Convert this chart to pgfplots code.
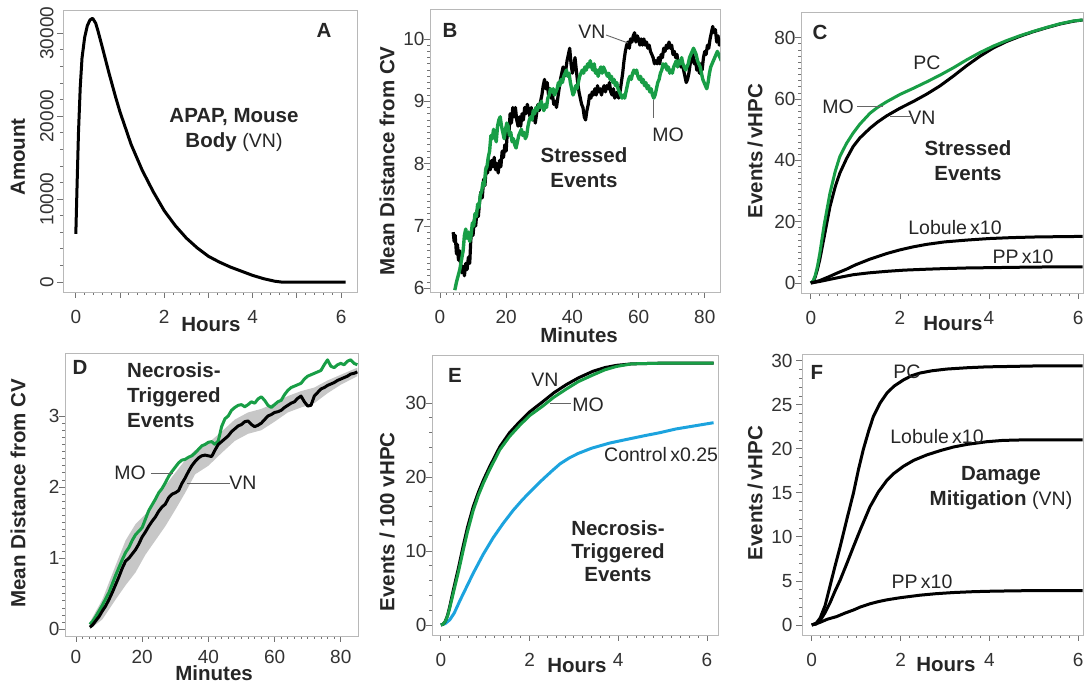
\documentclass[border=0pt]{standalone}
\usepackage{fontspec}
\setmainfont{Liberation Sans}
\usepackage{pgfplots}
\pgfplotsset{compat=1.18}
\newcommand\tk{\fontsize{19}{22}\selectfont}
\newcommand\lb{\fontsize{20.5}{25}\selectfont\bfseries}
\newcommand\an{\fontsize{19.5}{23}\selectfont}
\definecolor{mogreen}{RGB}{24,158,70}
\definecolor{ctlblue}{RGB}{28,163,222}
\definecolor{txt}{RGB}{38,38,38}
\pgfplotsset{
  panel/.style={
    scale only axis, anchor=south west,
    axis line style={draw=black!28, line width=0.9pt},
    tick pos=left, tick align=outside,
    major tick length=6pt, minor tick length=3pt,
    tick style={black!55, line width=0.8pt},
    tick label style={font=\tk, text=black!80},
    xticklabel style={yshift=-9pt},
    label style={font=\lb, text=txt, inner sep=0pt},
    /pgf/number format/assume math mode=true,
    /pgf/number format/1000 sep={},
    scaled y ticks=false,
  },
  cv/.style={line width=3pt, line join=round},
}
\begin{document}
\begin{tikzpicture}
\useasboundingbox (0pt,0pt) rectangle (1084pt,685pt);

% ---------------- A ----------------
\begin{axis}[panel, at={(63pt,393pt)}, width=294pt, height=282pt,
  xmin=-0.29, xmax=6.36, ymin=-1200, ymax=32800,
  xtick={0,1,2,3,4,5,6}, xticklabels={0,,2,,4,,6}, minor x tick num=4,
  ytick={0,10000,20000,30000}, minor y tick num=4,
  yticklabel style={rotate=90, anchor=south},
  xlabel={Hours}, ylabel={Amount},
  xlabel style={at={(axis description cs:0.503,-0.114)}, anchor=center},
  ylabel style={at={(axis description cs:-0.153,0.479)}, anchor=center}]
\addplot[cv, black] coordinates {
(0,5800) (0.03,12000) (0.06,18000) (0.1,23500) (0.14,27000) (0.2,29500) (0.26,30900)
(0.32,31600) (0.38,31800) (0.45,31200) (0.5,30300) (0.6,28300) (0.75,25200) (0.9,22300)
(1.0,20500) (1.25,16600) (1.5,13500) (1.75,10900) (2.0,8600) (2.25,6800) (2.5,5300)
(2.75,4100) (3.0,3100) (3.25,2400) (3.5,1800) (3.75,1300) (4.0,800) (4.25,400) (4.5,100)
(4.65,0) (6.1,0)};
\end{axis}

% ---------------- B ----------------
\begin{axis}[panel, at={(430pt,393pt)}, width=290pt, height=283pt,
  xmin=-3.0, xmax=84.6, ymin=5.94, ymax=10.48,
  xtick={0,20,40,60,80}, minor x tick num=9,
  ytick={6,7,8,9,10}, minor y tick num=9,
  yticklabel style={xshift=4pt},
  xlabel={Minutes}, ylabel={Mean Distance from CV},
  xlabel style={at={(axis description cs:0.514,-0.152)}, anchor=center},
  ylabel style={at={(axis description cs:-0.148,0.463)}, anchor=center}]
\addplot[cv, black, line width=3.2pt] coordinates {
(4.0,6.9) (4.3,6.75) (4.6,6.85) (5.0,6.55) (5.3,6.7) (5.6,6.45) (6.0,6.6) (6.3,6.35) (6.6,6.25)
(7.0,6.35) (7.4,6.2) (7.8,6.4) (8.2,6.3) (8.6,6.5) (9.0,6.4) (9.3,6.75) (9.6,6.95) (10.0,6.85)
(10.4,7.1) (10.8,7.0) (11.2,7.25) (11.6,7.15) (12.0,7.4) (12.4,7.55) (12.8,7.45) (13.2,7.75)
(13.6,7.65) (14.0,7.95) (14.4,7.85) (14.8,8.05) (15.2,7.9) (15.6,8.05) (16.0,7.95) (16.4,8.1)
(16.8,7.9) (17.2,8.0) (17.6,7.85) (18.0,8.05) (18.4,7.95) (18.8,8.2) (19.2,8.1) (19.6,8.3)
(20.0,8.2) (20.4,8.55) (20.8,8.45) (21.2,8.8) (21.6,8.65) (22.0,8.9) (22.4,8.75) (22.8,8.9)
(23.2,8.7) (23.6,8.6) (24.0,8.75) (24.4,8.6) (24.8,8.8) (25.2,8.7) (25.6,8.9) (26.0,8.8)
(26.4,8.95) (26.8,8.85) (27.2,8.75) (27.6,8.9) (28.0,8.7) (28.4,8.8) (28.8,8.65) (29.2,8.8)
(29.6,8.95) (30.0,8.85) (30.4,9.0) (30.8,9.1) (31.2,9.25) (31.6,9.35) (32.0,9.2) (32.4,9.3)
(32.8,9.1) (33.2,9.2) (33.6,9.05) (34.0,9.1) (34.4,8.95) (34.8,9.0) (35.2,8.9) (35.6,9.05)
(36.0,9.2) (36.4,9.35) (36.8,9.45) (37.2,9.55) (37.6,9.4) (38.0,9.5) (38.4,9.65) (38.8,9.75)
(39.2,9.85) (39.6,9.6) (40.0,9.45) (40.4,9.55) (40.8,9.7) (41.2,9.5) (41.6,9.3) (42.0,9.15)
(42.4,9.05) (42.8,8.95) (43.2,8.9) (43.6,8.75) (44.0,8.7) (44.4,8.85) (44.8,8.95) (45.2,9.1)
(45.6,9.05) (46.0,9.15) (46.4,9.1) (46.8,9.2) (47.2,9.1) (47.6,9.25) (48.0,9.15) (48.4,9.2)
(48.8,9.1) (49.2,9.2) (49.6,9.25) (50.0,9.15) (50.4,9.25) (50.8,9.2) (51.2,9.3) (51.6,9.15)
(52.0,9.1) (52.4,9.2) (52.8,9.05) (53.2,9.1) (53.6,9.15) (54.0,9.05) (54.4,9.15) (54.8,9.3)
(55.2,9.45) (55.6,9.65) (56.0,9.8) (56.4,9.9) (56.8,9.95) (57.2,9.85) (57.6,10.0) (58.0,9.95)
(58.4,10.05) (58.8,10.1) (59.2,9.95) (59.6,10.05) (60.0,10.0) (60.4,9.9) (60.8,10.0) (61.2,9.9)
(61.6,10.0) (62.0,9.9) (62.4,9.95) (62.8,9.85) (63.2,9.9) (63.6,9.8) (64.0,9.75) (64.4,9.7)
(64.8,9.6) (65.2,9.65) (65.6,9.6) (66.0,9.7) (66.4,9.6) (66.8,9.75) (67.2,9.7) (67.6,9.85)
(68.0,9.8) (68.4,9.9) (68.8,9.85) (69.2,9.95) (69.6,9.85) (70.0,9.9) (70.4,9.75) (70.8,9.8)
(71.2,9.7) (71.6,9.75) (72.0,9.6) (72.4,9.65) (72.8,9.55) (73.2,9.6) (73.6,9.5) (74.0,9.4)
(74.4,9.3) (74.8,9.35) (75.2,9.45) (75.6,9.6) (76.0,9.7) (76.4,9.75) (76.8,9.6) (77.2,9.65)
(77.6,9.5) (78.0,9.55) (78.4,9.45) (78.8,9.6) (79.2,9.5) (79.6,9.7) (80.0,9.8) (80.4,9.75)
(80.8,9.9) (81.2,9.85) (81.6,10.0) (82.0,10.1) (82.4,10.2) (82.8,10.1) (83.2,10.15) (83.6,9.95)
(84.0,10.05) (84.4,9.9) (84.8,10.0)};
\addplot[cv, mogreen, line width=3.4pt] coordinates {
(4.5,5.97) (5.0,6.1) (5.5,6.2) (6.0,6.3) (6.5,6.45) (7.0,6.6) (7.4,6.85) (7.8,6.95) (8.2,6.8)
(8.6,6.9) (9.0,6.75) (9.4,6.85) (9.8,7.05) (10.2,7.0) (10.6,7.2) (11.0,7.15) (11.4,7.35)
(11.8,7.3) (12.2,7.5) (12.6,7.55) (13.0,7.7) (13.4,7.65) (13.8,7.9) (14.2,7.95) (14.6,8.1)
(15.0,8.2) (15.4,8.45) (15.8,8.4) (16.2,8.55) (16.6,8.45) (17.0,8.35) (17.4,8.6) (17.8,8.7)
(18.2,8.75) (18.6,8.6) (19.0,8.5) (19.4,8.4) (19.8,8.55) (20.2,8.65) (20.6,8.6) (21.0,8.45)
(21.4,8.5) (21.8,8.35) (22.2,8.4) (22.6,8.3) (23.0,8.25) (23.4,8.35) (23.8,8.45) (24.2,8.5)
(24.6,8.55) (25.0,8.45) (25.4,8.5) (25.8,8.4) (26.2,8.45) (26.6,8.6) (27.0,8.7) (27.4,8.75)
(27.8,8.7) (28.2,8.85) (28.6,8.8) (29.0,8.9) (29.4,8.85) (29.8,8.95) (30.2,8.9) (30.6,9.0)
(31.0,8.9) (31.4,8.85) (31.8,8.95) (32.2,8.9) (32.6,9.05) (33.0,9.1) (33.4,9.2) (33.8,9.15)
(34.2,9.2) (34.6,9.1) (35.0,9.15) (35.4,9.2) (35.8,9.3) (36.2,9.25) (36.6,9.35) (37.0,9.3)
(37.4,9.4) (37.8,9.45) (38.2,9.5) (38.6,9.4) (39.0,9.45) (39.4,9.3) (39.8,9.2) (40.2,9.1)
(40.6,9.15) (41.0,9.25) (41.4,9.2) (41.8,9.3) (42.2,9.4) (42.6,9.45) (43.0,9.5) (43.4,9.45)
(43.8,9.55) (44.2,9.5) (44.6,9.6) (45.0,9.55) (45.4,9.65) (45.8,9.55) (46.2,9.5) (46.6,9.6)
(47.0,9.45) (47.4,9.5) (47.8,9.4) (48.2,9.5) (48.6,9.55) (49.0,9.45) (49.4,9.55) (49.8,9.5)
(50.2,9.45) (50.6,9.4) (51.0,9.45) (51.4,9.35) (51.8,9.4) (52.2,9.3) (52.6,9.35) (53.0,9.25)
(53.4,9.3) (53.8,9.2) (54.2,9.15) (54.6,9.1) (55.0,9.05) (55.4,9.1) (55.8,9.05) (56.2,9.15)
(56.6,9.25) (57.0,9.35) (57.4,9.4) (57.8,9.35) (58.2,9.45) (58.6,9.5) (59.0,9.45) (59.4,9.5)
(59.8,9.4) (60.2,9.35) (60.6,9.4) (61.0,9.3) (61.4,9.35) (61.8,9.25) (62.2,9.3) (62.6,9.2)
(63.0,9.25) (63.4,9.15) (63.8,9.2) (64.2,9.1) (64.6,9.05) (65.0,9.1) (65.4,9.2) (65.8,9.3)
(66.2,9.35) (66.6,9.45) (67.0,9.5) (67.4,9.6) (67.8,9.55) (68.2,9.6) (68.6,9.5) (69.0,9.55)
(69.4,9.45) (69.8,9.5) (70.2,9.45) (70.6,9.55) (71.0,9.6) (71.4,9.65) (71.8,9.55) (72.2,9.65)
(72.6,9.6) (73.0,9.7) (73.4,9.6) (73.8,9.55) (74.2,9.5) (74.6,9.55) (75.0,9.6) (75.4,9.7)
(75.8,9.75) (76.2,9.8) (76.6,9.85) (77.0,9.8) (77.4,9.75) (77.8,9.65) (78.2,9.6) (78.6,9.55)
(79.0,9.45) (79.4,9.35) (79.8,9.3) (80.2,9.25) (80.6,9.2) (81.0,9.3) (81.4,9.45) (81.8,9.55)
(82.2,9.6) (82.6,9.65) (83.0,9.7) (83.4,9.75) (83.8,9.8) (84.2,9.75) (84.6,9.7) (85.0,9.65)};
\end{axis}

% ---------------- C ----------------
\begin{axis}[panel, at={(801pt,392pt)}, width=282pt, height=281pt,
  xmin=-0.22, xmax=6.11, ymin=-3.26, ymax=88.4,
  xtick={0,2,4,6}, minor x tick num=9,
  ytick={0,20,40,60,80}, minor y tick num=9,
  yticklabel style={xshift=4pt},
  xlabel={Hours}, ylabel={Events\,/\,vHPC},
  xlabel style={at={(axis description cs:0.539,-0.110)}, anchor=center},
  ylabel style={at={(axis description cs:-0.163,0.505)}, anchor=center}]
\addplot[cv, black] coordinates {
(0,0) (0.05,0.5) (0.1,2) (0.15,4.5) (0.2,7.5) (0.3,15) (0.43,24.9) (0.55,31.5) (0.65,35.8)
(0.8,40.5) (0.95,44.5) (1.1,47.3) (1.33,50.5) (1.5,52.5) (1.7,54.5) (2.0,57) (2.3,59.2)
(2.6,61.6) (2.9,64.3) (3.2,67.5) (3.5,70.9) (3.8,74.0) (4.1,76.7) (4.4,78.8) (4.7,80.5) (5.0,82)
(5.3,83.3) (5.6,84.5) (5.9,85.4) (6.1,85.8)};
\addplot[cv, mogreen] coordinates {
(0,0) (0.05,0.6) (0.1,2.5) (0.15,5.5) (0.2,9.5) (0.3,19) (0.43,29.3) (0.55,36.5) (0.65,41.2)
(0.8,45.5) (0.95,48.9) (1.1,51.8) (1.33,55.4) (1.5,57.3) (1.7,59.1) (2.0,61.5) (2.3,63.5)
(2.6,65.6) (2.9,67.8) (3.2,70.2) (3.5,72.8) (3.8,75.2) (4.1,77.3) (4.4,79.1) (4.7,80.7) (5.0,82.1)
(5.3,83.4) (5.6,84.6) (5.9,85.5) (6.1,85.8)};
\addplot[cv, black] coordinates {
(0,0) (0.2,0.8) (0.4,2.0) (0.6,3.3) (0.8,4.5) (1.0,5.9) (1.33,7.8) (1.7,9.6) (2.0,10.8)
(2.3,11.8) (2.6,12.6) (3.0,13.4) (3.5,14.0) (4.0,14.5) (4.5,14.8) (5.0,15.0) (5.5,15.1) (6.1,15.2)};
\addplot[cv, black] coordinates {
(0,0) (0.2,0.5) (0.43,1.2) (0.7,2.0) (0.95,2.7) (1.3,3.3) (1.7,3.8) (2.1,4.2) (2.6,4.5)
(3.0,4.7) (3.5,4.9) (4.0,5.0) (4.5,5.1) (5.0,5.2) (5.5,5.25) (6.1,5.3)};
\end{axis}

% ---------------- D ----------------
\begin{axis}[panel, at={(65pt,49pt)}, width=293pt, height=283pt,
  xmin=-3.3, xmax=85.2, ymin=-0.094, ymax=3.886,
  xtick={0,20,40,60,80}, minor x tick num=9,
  ytick={0,1,2,3}, minor y tick num=9,
  yticklabel style={xshift=4pt},
  xticklabel style={inner sep=1pt, yshift=2pt},
  xlabel={Minutes}, ylabel={Mean Distance from CV},
  xlabel style={at={(axis description cs:0.509,-0.131)}, anchor=center},
  ylabel style={at={(axis description cs:-0.160,0.505)}, anchor=center}]
% spread band: upper edge forward, lower edge back
\addplot[fill=black!22, draw=none] coordinates {
(4.2,0.1) (8,0.42) (12,0.9) (15,1.25) (18,1.48) (21,1.62) (24,1.82) (27,2.02) (30,2.2)
(33,2.38) (36,2.52) (40,2.62) (44,2.78) (48,2.95) (52,3.05) (56,3.1) (60,3.18) (64,3.28)
(68,3.35) (72,3.4) (76,3.5) (80,3.58) (85,3.68)
(85,3.56) (80,3.44) (76,3.32) (72,3.18) (68,3.12) (64,3.05) (60,2.92) (56,2.8) (52,2.75)
(48,2.65) (44,2.48) (40,2.3) (36,2.18) (33,1.92) (30,1.68) (27,1.45) (24,1.25) (21,1.05)
(18,0.8) (15,0.62) (12,0.42) (8,0.14) (4.2,0.0)};
\addplot[cv, mogreen] coordinates {
(4.2,0.07) (5,0.11) (6,0.18) (7,0.26) (8,0.34) (9,0.43) (10,0.52) (11,0.64) (12,0.76) (13,0.87)
(14,0.98) (15,1.08) (16,1.15) (17,1.25) (18,1.33) (19,1.38) (20,1.43) (21,1.55) (22,1.67)
(23,1.75) (24,1.83) (25,1.92) (26,1.98) (27,2.06) (28,2.15) (29,2.22) (30,2.28) (31,2.34)
(32,2.38) (33,2.39) (34,2.42) (35,2.44) (36,2.48) (37,2.53) (38,2.58) (39,2.6) (40,2.63)
(41,2.64) (42,2.6) (43,2.65) (44,2.85) (45,2.96) (46,3.0) (47,3.08) (48,3.12) (49,3.15)
(50,3.16) (51,3.13) (52,3.16) (53,3.2) (54,3.18) (55,3.24) (56,3.27) (57,3.22) (58,3.15)
(59,3.12) (60,3.16) (61,3.2) (62,3.22) (63,3.3) (64,3.36) (65,3.4) (66,3.42) (67,3.44)
(68,3.46) (69,3.52) (70,3.56) (71,3.58) (72,3.6) (73,3.62) (74,3.64) (75,3.72) (76,3.79)
(77,3.7) (78,3.68) (79,3.72) (80,3.74) (81,3.72) (82,3.77) (83,3.79) (84,3.74) (85,3.72)};
\addplot[cv, black] coordinates {
(4.2,0.03) (5,0.06) (6,0.12) (7,0.18) (8,0.26) (9,0.33) (10,0.42) (11,0.52) (12,0.63) (13,0.74)
(14,0.86) (15,0.96) (16,1.0) (17,1.06) (18,1.12) (19,1.2) (20,1.3) (21,1.37) (22,1.45)
(23,1.52) (24,1.58) (25,1.66) (26,1.72) (27,1.76) (28,1.85) (29,1.9) (30,1.92) (31,1.95)
(32,2.05) (33,2.13) (34,2.22) (35,2.3) (36,2.36) (37,2.41) (38,2.44) (39,2.45) (40,2.44)
(41,2.43) (42,2.52) (43,2.6) (44,2.64) (45,2.68) (46,2.72) (47,2.78) (48,2.82) (49,2.86)
(50,2.88) (51,2.92) (52,2.93) (53,2.88) (54,2.85) (55,2.87) (56,2.9) (57,2.95) (58,3.0)
(59,3.02) (60,3.05) (61,3.06) (62,3.08) (63,3.12) (64,3.15) (65,3.18) (66,3.2) (67,3.25)
(68,3.28) (69,3.2) (70,3.14) (71,3.15) (72,3.28) (73,3.33) (74,3.38) (75,3.4) (76,3.43)
(77,3.45) (78,3.47) (79,3.5) (80,3.52) (81,3.54) (82,3.56) (83,3.59) (84,3.6) (85,3.62)};
\end{axis}

% ---------------- E ----------------
\begin{axis}[panel, at={(432pt,50pt)}, width=286pt, height=280pt,
  xmin=-0.2, xmax=6.25, ymin=-1.35, ymax=36.5,
  xtick={0,2,4,6}, minor x tick num=9,
  ytick={0,10,20,30}, minor y tick num=4,
  yticklabel style={xshift=4pt},
  xlabel={Hours}, ylabel={Events / 100 vHPC},
  xlabel style={at={(axis description cs:0.507,-0.110)}, anchor=center},
  ylabel style={at={(axis description cs:-0.157,0.404)}, anchor=center}]
\addplot[cv, ctlblue] coordinates {
(0,0) (0.1,0.2) (0.2,0.7) (0.3,1.6) (0.43,3.3) (0.6,5.4) (0.73,7.0) (0.95,9.5) (1.18,11.8)
(1.4,13.7) (1.63,15.5) (1.85,17.0) (2.08,18.4) (2.3,19.7) (2.5,20.8) (2.69,21.8) (2.9,22.6)
(3.1,23.2) (3.4,23.9) (3.81,24.6) (4.2,25.1) (4.6,25.6) (4.94,26.0) (5.3,26.5) (5.7,26.9)
(6.1,27.3) (6.15,27.35)};
\addplot[cv, black] coordinates {
(0,0) (0.05,0.1) (0.1,0.5) (0.15,1.3) (0.2,2.5) (0.28,4.7) (0.4,7.8) (0.5,10.6) (0.6,13.2)
(0.73,16.0) (0.85,18.0) (0.96,19.6) (1.1,21.4) (1.33,24.1) (1.55,26) (1.78,27.5) (2.0,28.8)
(2.3,30.2) (2.55,31.4) (2.83,32.5) (3.1,33.4) (3.43,34.3) (3.7,34.8) (3.96,35.1) (4.3,35.3)
(5,35.4) (6.15,35.4)};
\addplot[cv, mogreen] coordinates {
(0,0) (0.05,0.1) (0.1,0.5) (0.15,1.2) (0.2,2.3) (0.28,4.3) (0.4,7.3) (0.5,10.0) (0.6,12.6)
(0.73,15.5) (0.85,17.6) (0.96,19.2) (1.1,21.0) (1.33,23.7) (1.55,25.5) (1.78,27.0) (2.0,28.3)
(2.3,29.6) (2.55,30.8) (2.83,31.9) (3.1,32.9) (3.43,33.8) (3.7,34.5) (3.96,34.95) (4.3,35.3)
(5,35.4) (6.15,35.4)};
\end{axis}

% ---------------- F ----------------
\begin{axis}[panel, at={(802pt,50pt)}, width=281pt, height=281pt,
  xmin=-0.22, xmax=6.11, ymin=-1.14, ymax=30.76,
  xtick={0,2,4,6}, minor x tick num=9,
  ytick={0,5,10,15,20,25,30}, minor y tick num=4,
  xlabel={Hours}, ylabel={Events\,/\,vHPC},
  xlabel style={at={(axis description cs:0.512,-0.104)}, anchor=center},
  ylabel style={at={(axis description cs:-0.167,0.505)}, anchor=center}]
\addplot[cv, black] coordinates {
(0,0) (0.1,0.2) (0.19,0.8) (0.3,2.2) (0.41,4.4) (0.52,6.6) (0.64,8.9) (0.8,12.2) (0.94,15.0)
(1.05,17.6) (1.16,19.9) (1.28,22.0) (1.39,23.7) (1.54,25.2) (1.69,26.3) (1.85,27.1) (2.06,27.8)
(2.25,28.3) (2.44,28.6) (2.7,28.85) (3.04,29.05) (3.5,29.2) (3.94,29.3) (4.5,29.35) (5,29.4) (6.1,29.4)};
\addplot[cv, black] coordinates {
(0,0) (0.1,0.1) (0.19,0.5) (0.3,1.4) (0.41,2.5) (0.52,3.8) (0.64,5.1) (0.8,7.1) (0.94,8.9)
(1.1,10.9) (1.31,13.4) (1.5,15.1) (1.69,16.4) (1.85,17.2) (2.06,18.0) (2.3,18.7) (2.59,19.3)
(2.9,19.8) (3.19,20.2) (3.5,20.5) (3.94,20.8) (4.3,20.95) (4.69,21.0) (6.1,21.0)};
\addplot[cv, black] coordinates {
(0,0) (0.19,0.3) (0.35,0.65) (0.56,0.95) (0.75,1.35) (0.94,1.7) (1.1,2.05) (1.31,2.4) (1.5,2.65)
(1.69,2.85) (2.0,3.1) (2.44,3.38) (2.8,3.55) (3.19,3.68) (3.6,3.77) (3.94,3.82) (4.5,3.87) (5,3.9) (6.1,3.9)};
\end{axis}

% ---------------- annotations ----------------
\begin{scope}[every node/.style={text=txt, inner sep=0pt}]
\node[font=\lb] at (324pt,655pt) {A};
\node[font=\lb, align=center] at (234pt,554.5pt) {APAP, Mouse\\Body {\mdseries\an(VN)}};
\node[font=\lb] at (450pt,655pt) {B};
\node[font=\an] at (592pt,653pt) {VN};
\draw[black!60, line width=0.9pt] (606pt,650pt) -- (628pt,642pt);
\node[font=\an] at (668pt,550pt) {MO};
\draw[black!60, line width=0.9pt] (653pt,585pt) -- (653pt,567pt);
\node[font=\lb, align=center] at (584pt,517.5pt) {Stressed\\Events};
\node[font=\lb] at (820pt,653pt) {C};
\node[font=\an] at (927pt,622pt) {PC};
\node[font=\an] at (838pt,578pt) {MO};
\draw[black!60, line width=0.9pt] (857pt,579pt) -- (883pt,579pt);
\node[font=\an] at (922pt,567pt) {VN};
\draw[black!60, line width=0.9pt] (890pt,569pt) -- (912pt,569pt);
\node[font=\lb, align=center] at (968pt,524.5pt) {Stressed\\Events};
\node[font=\an] at (955pt,457pt) {Lobule\,x10};
\node[font=\an] at (1023pt,428pt) {PP\,x10};
\node[font=\lb] at (80pt,318pt) {D};
\node[font=\lb, align=left, anchor=west] at (127pt,290pt) {Necrosis-\\Triggered\\Events};
\node[font=\an] at (130pt,212pt) {MO};
\draw[black!60, line width=0.9pt] (151pt,212pt) -- (173pt,212pt);
\node[font=\an] at (243pt,202pt) {VN};
\draw[black!60, line width=0.9pt] (187pt,202pt) -- (230pt,202pt);
\node[font=\lb] at (455pt,310pt) {E};
\node[font=\an] at (545pt,305pt) {VN};
\node[font=\an] at (588pt,280pt) {MO};
\draw[black!60, line width=0.9pt] (550pt,282pt) -- (571pt,282pt);
\node[font=\an, anchor=west] at (604pt,230pt) {Control\,x0.25};
\node[font=\fontsize{20.5}{23}\selectfont\bfseries, align=center] at (618pt,134pt) {Necrosis-\\Triggered\\Events};
\node[font=\lb] at (817pt,313pt) {F};
\node[font=\an] at (907pt,313pt) {PC};
\node[font=\an] at (937pt,248pt) {Lobule\,x10};
\node[font=\lb, align=center] at (1001pt,196.5pt) {Damage\\Mitigation {\mdseries\an(VN)}};
\node[font=\an] at (922pt,103pt) {PP\,x10};
\end{scope}
\end{tikzpicture}
\end{document}
